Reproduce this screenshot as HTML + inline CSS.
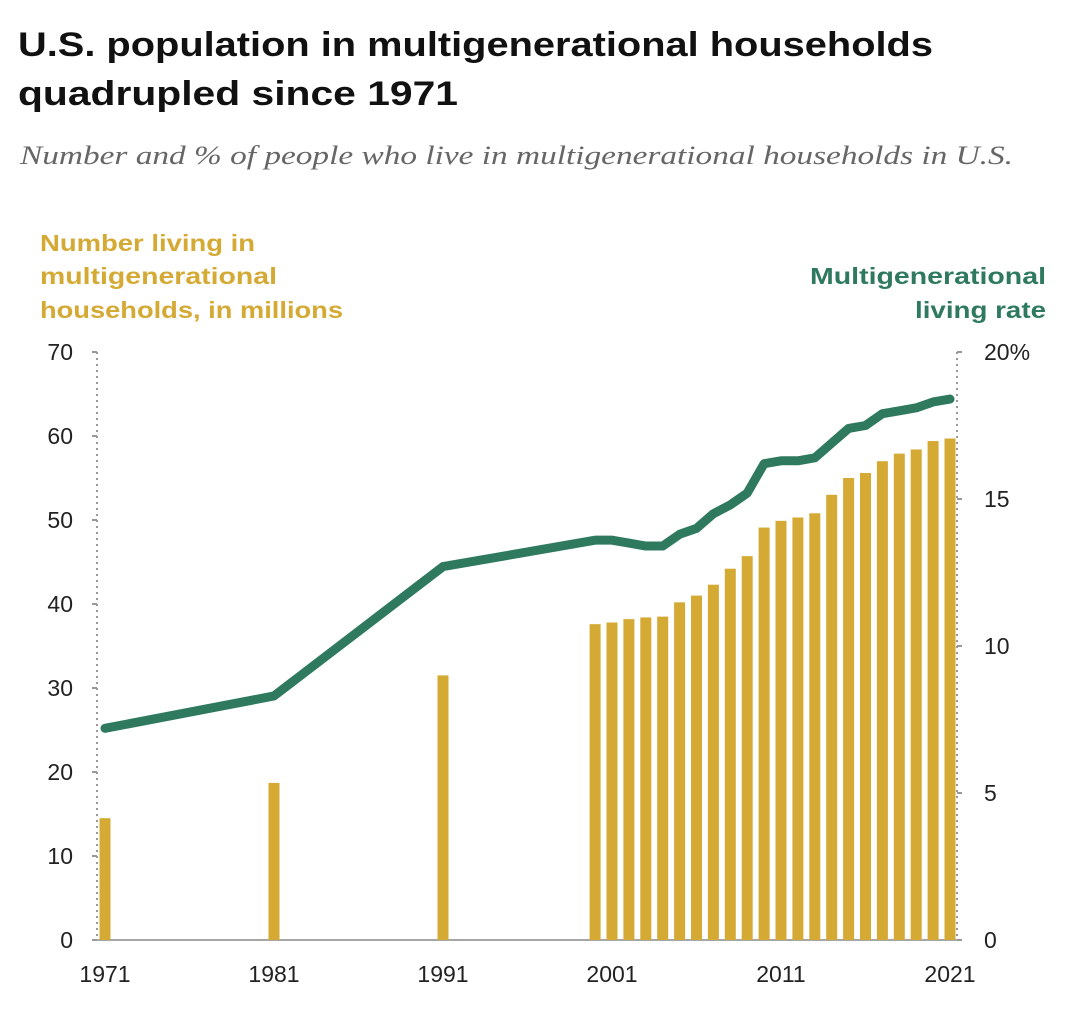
<!DOCTYPE html>
<html><head><meta charset="utf-8"><style>
body{margin:0;background:#fff;width:1078px;height:1010px;overflow:hidden;font-family:"Liberation Sans",sans-serif}
</style></head><body>
<svg width="1078" height="1010">
<text x="18" y="56" font-size="34" font-weight="bold" fill="#111" textLength="915" lengthAdjust="spacingAndGlyphs">U.S. population in multigenerational households</text>
<text x="18" y="105" font-size="34" font-weight="bold" fill="#111" textLength="440" lengthAdjust="spacingAndGlyphs">quadrupled since 1971</text>
<text x="20" y="164" font-size="26" font-style="italic" fill="#666" font-family="Liberation Serif,serif" textLength="993" lengthAdjust="spacingAndGlyphs">Number and % of people who live in multigenerational households in U.S.</text>
<g font-size="23" font-weight="bold" fill="#d4aa35">
<text x="40" y="251" textLength="215" lengthAdjust="spacingAndGlyphs">Number living in</text><text x="40" y="284" textLength="237" lengthAdjust="spacingAndGlyphs">multigenerational</text><text x="40" y="318" textLength="303" lengthAdjust="spacingAndGlyphs">households, in millions</text></g>
<g font-size="23" font-weight="bold" fill="#2f7a5f">
<text x="810" y="284" textLength="236" lengthAdjust="spacingAndGlyphs">Multigenerational</text><text x="915" y="318" textLength="131" lengthAdjust="spacingAndGlyphs">living rate</text></g>
<g id="axes"></g><g id="bars"></g><g id="line"></g>
</svg>
<script>
const years=[1971,1981,1991,2000,2001,2002,2003,2004,2005,2006,2007,2008,2009,2010,2011,2012,2013,2014,2015,2016,2017,2018,2019,2020,2021];
const counts=[14.5,18.7,31.5,37.6,37.8,38.2,38.4,38.5,40.2,41,42.3,44.2,45.7,49.1,49.9,50.3,50.8,53,55,55.6,57,57.9,58.4,59.4,59.7];
const rates=[7.2,8.3,12.7,13.6,13.6,13.5,13.4,13.4,13.8,14.0,14.5,14.8,15.2,16.2,16.3,16.3,16.4,16.9,17.4,17.5,17.9,18.0,18.1,18.3,18.4];
const leftTicks=[0,10,20,30,40,50,60,70];
const rightTicks=[0,5,10,15,20];
const xTicks=[1971,1981,1991,2001,2011,2021];
const NS="http://www.w3.org/2000/svg";
const x=y=>105+(y-1971)*16.9;
const yL=v=>940-v*8.4;
const yR=v=>940-v*29.4;
function mk(t,a,p,txt){const e=document.createElementNS(NS,t);for(const k in a)e.setAttribute(k,a[k]);if(txt!=null)e.textContent=txt;p.appendChild(e);return e;}
const ax=document.getElementById('axes');
let e=mk('line',{x1:97,y1:352,x2:97,y2:940,stroke:'#999','stroke-width':2,'stroke-dasharray':'2 4'},ax);

e=mk('line',{x1:957,y1:352,x2:957,y2:940,stroke:'#999','stroke-width':2,'stroke-dasharray':'2 4'},ax);

e=mk('line',{x1:92,y1:940,x2:962,y2:940,stroke:'#888','stroke-width':1.5},ax);

leftTicks.forEach(v=>{const t=mk('text',{x:73,y:yL(v)+8,'font-size':23,fill:'#222','text-anchor':'end'},ax,v);

mk('line',{x1:92,x2:97,y1:yL(v),y2:yL(v),stroke:'#999','stroke-width':2},ax);});
rightTicks.forEach(v=>{const t=mk('text',{x:984,y:yR(v)+8,'font-size':23,fill:'#222'},ax,v===20?'20%':v);

mk('line',{x1:957,x2:962,y1:yR(v),y2:yR(v),stroke:'#999','stroke-width':2},ax);});
xTicks.forEach(v=>{const t=mk('text',{x:x(v),y:982,'font-size':23,fill:'#222','text-anchor':'middle'},ax,v);
});
const bg=document.getElementById('bars');
years.forEach((yr,i)=>{const b=mk('rect',{x:x(yr)-5.5,y:yL(counts[i]),width:11,height:940-yL(counts[i]),fill:'#d4aa35'},bg);
});
const p=mk('polyline',{points:years.map((yr,i)=>x(yr)+','+yR(rates[i])).join(' '),fill:'none',stroke:'#2f7a5f','stroke-width':9,'stroke-linejoin':'round','stroke-linecap':'round'},document.getElementById('line'));

</script>
</body></html>
